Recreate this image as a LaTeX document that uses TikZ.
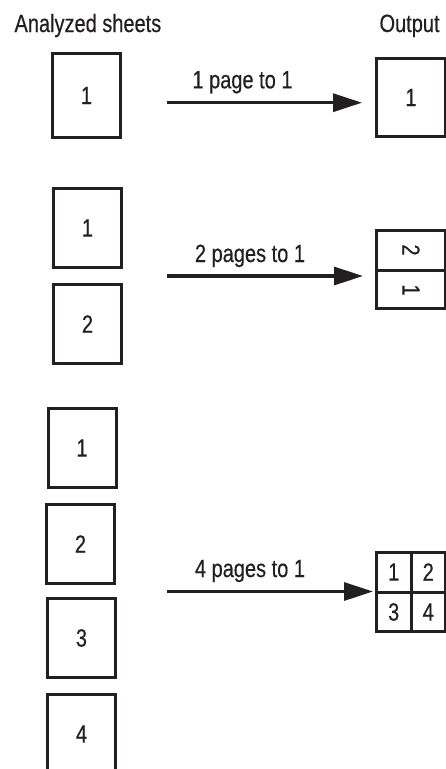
\documentclass[tikz,border=0pt]{standalone}
\usepackage{fontspec}
\setmainfont{Liberation Sans}[FakeStretch=0.8,FakeBold=0.4]
\usetikzlibrary{arrows.meta}
\definecolor{ink}{RGB}{35,31,32}

\begin{document}
\begin{tikzpicture}[x=1pt,y=-1pt,
    every node/.style={font=\fontsize{25}{30}\selectfont,text=ink},
    sheet/.style={draw=ink,line width=3pt,minimum width=68pt,minimum height=79pt,inner sep=0pt},
    outbox/.style={draw=ink,line width=3pt,minimum width=69pt,minimum height=78pt,inner sep=0pt},
    flow/.style={draw=ink,line width=3.2pt,-{Triangle[length=29pt,width=18pt]}}]
    \useasboundingbox (0,0) rectangle (445,769);

    \node[anchor=base west] (hsrc) at (11,32) {Analyzed sheets};
    \node[anchor=base west] (hout) at (376,32) {Output};

    % 1 page to 1
    \node[sheet,minimum height=84pt] (s1) at (86.5,95.5) {1};
    \node[outbox] (o1) at (411,97.5) {1};
    \coordinate (a1) at (167,102.7);
    \node[anchor=base] (l1) at (242.5,88.3) {1 page to 1};
    \draw[flow,shorten >=13pt] (a1) -- (a1 -| o1.west);

    % 2 pages to 1
    \node[sheet] (s2a) at (87.5,228) {1};
    \node[sheet] (s2b) at (87.5,324) {2};
    \node[outbox] (o2) at (411,269.5) {};
    \draw[ink,line width=3pt] (o2.west |- 0,270.5) -- (o2.east |- 0,270.5);
    \node[rotate=-90] (o2a) at (411,250) {2};
    \node[rotate=-90] (o2b) at (411,290) {1};
    \coordinate (a2) at (167,276);
    \node[anchor=base] (l2) at (250,262) {2 pages to 1};
    \draw[flow,shorten >=12pt] (a2) -- (a2 -| o2.west);

    % 4 pages to 1
    \node[sheet] (s3a) at (82,448) {1};
    \node[sheet] (s3b) at (80.5,544) {2};
    \node[sheet] (s3c) at (81.5,638) {3};
    \node[sheet] (s3d) at (81.5,734) {4};
    \node[outbox,minimum height=79pt] (o4) at (411,592) {};
    \draw[ink,line width=3pt] (o4.north) -- (o4.south);
    \draw[ink,line width=3pt] (o4.west) -- (o4.east);
    \node (o4a) at (393.7,572) {1};
    \node (o4b) at (428.3,572) {2};
    \node (o4c) at (393.7,612) {3};
    \node (o4d) at (428.3,612) {4};
    \coordinate (a3) at (167,591.5);
    \node[anchor=base] (l3) at (250,577) {4 pages to 1};
    \draw[flow,shorten >=2pt] (a3) -- (a3 -| o4.west);
\end{tikzpicture}
\end{document}
